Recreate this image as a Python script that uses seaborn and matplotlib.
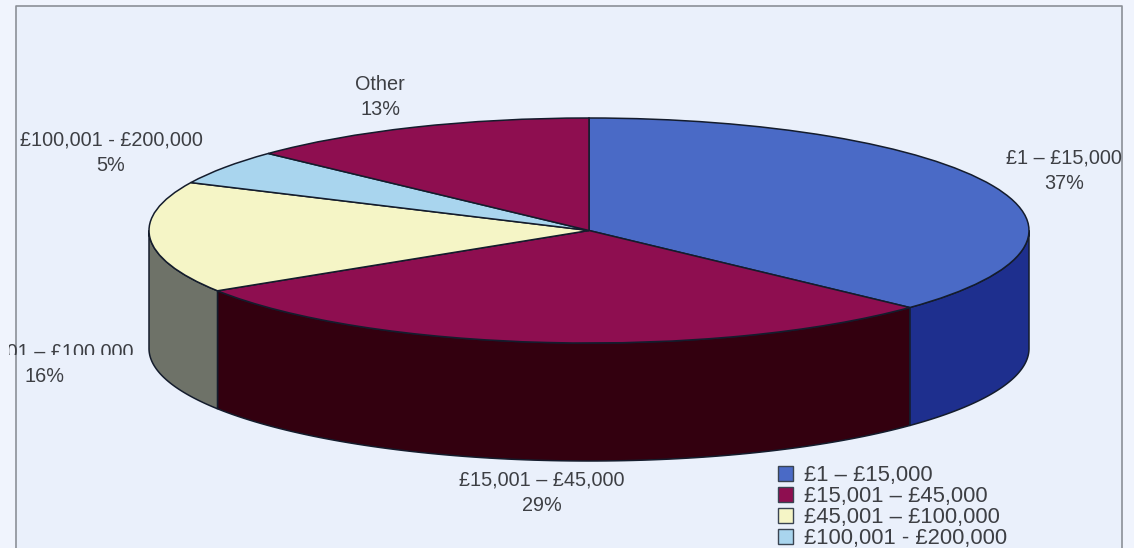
import numpy as np
import matplotlib
matplotlib.use("Agg")
import matplotlib.pyplot as plt
from matplotlib.lines import Line2D
from matplotlib.patches import Rectangle
from matplotlib.transforms import IdentityTransform
import seaborn as sns

# Income bands and their shares of the total
bands = ["£1 – £15,000", "£15,001 – £45,000", "£45,001 – £100,000",
         "£100,001 - £200,000", "Other"]
shares = [37, 29, 16, 5, 13]
top_colors = ["#4A6AC6", "#8E0E50", "#F5F5C6", "#A9D5EE", "#8E0E50"]
wall_colors = ["#1E2F8E", "#33000F", "#6E7268", "#5A7A90", "#33000F"]
legend_count = 4

W, H = 1134, 548
CX, CY, RX, RY, DEPTH = 589.0, 230.5, 440.0, 112.5, 118.0
BG, OUTER, INK, EDGE = "#EAF0FB", "#F0F4FD", "#3D3F44", "#141C2C"
LABEL_SIZE = 14.3

sns.set_theme(style="white")
plt.rcParams["font.family"] = ["Liberation Sans", "DejaVu Sans"]
palette = sns.color_palette(top_colors)

fig = plt.figure(figsize=(W / 100, H / 100), dpi=100, facecolor=OUTER)
fig.add_artist(Rectangle((16 / W, 0), (1122 - 16) / W, 1 - 6 / H,
                         transform=fig.transFigure, facecolor=BG,
                         edgecolor="none", zorder=-5))

# Axes in disc units: the unit circle is squashed into the tilted ellipse
ax = fig.add_axes([0, 0, 1, 1])
ax.patch.set_alpha(0)
wedges, _ = ax.pie(shares, colors=palette, startangle=90, counterclock=False,
                   radius=1, wedgeprops=dict(edgecolor=EDGE, linewidth=1.1,
                                             zorder=3))
ax.set_aspect("auto")
ax.set_xlim(-CX / RX, (W - CX) / RX)
ax.set_ylim((CY - H) / RY, CY / RY)
ax.set_axis_off()

# Side wall below the visible front half of the rim
drop = DEPTH / RY
ends = 90 - 3.6 * np.cumsum(shares)
starts = np.r_[90, ends[:-1]]
for start, end, color in zip(starts, ends, wall_colors):
    hi, lo = min(start, 0), max(end, -180)
    if hi <= lo:
        continue
    t = np.radians(np.linspace(hi, lo, 90))
    x, y = np.cos(t), np.sin(t)
    ax.fill(np.r_[x, x[::-1]], np.r_[y, y[::-1] - drop], facecolor=color,
            edgecolor=EDGE, linewidth=1.1, zorder=2)

# Slice labels, two lines each: band, then share
label_xy = [(1064, 171), (542, 493), (45, 0), (111, 153), (380, 97)]
for band, share, (px, py) in zip(bands, shares, label_xy):
    if band.startswith("£45"):
        # This label sits apart, cut by a mask at the left and along its lower edge
        head = fig.text(px / W, 1 - 357 / H, band, ha="center", va="baseline",
                        fontsize=LABEL_SIZE, color=INK)
        head.set_clip_path(Rectangle((9, H - 355), 200, 30,
                                     transform=IdentityTransform()))
        head.set_clip_on(True)
        fig.text(px / W, 1 - 382 / H, f"{share}%", ha="center", va="baseline",
                 fontsize=LABEL_SIZE, color=INK)
        continue
    fig.text(px / W, 1 - py / H, f"{band}\n{share}%", ha="center", va="center",
             fontsize=LABEL_SIZE, color=INK, linespacing=1.46)

# Chart frame: left, top and right edges
frame = dict(color="#8C9098", linewidth=1.2, transform=fig.transFigure)
fig.add_artist(Line2D([16 / W, 16 / W, 1122 / W, 1122 / W],
                      [0, 1 - 6 / H, 1 - 6 / H, 0], **frame))

leg = ax.legend(wedges[:legend_count], bands[:legend_count], frameon=False,
                loc="upper left", bbox_to_anchor=(778 / W, 1 - 465 / H),
                bbox_transform=fig.transFigure, fontsize=15.8,
                labelspacing=0.0, handlelength=0.68, handleheight=0.68,
                handletextpad=0.5, borderpad=0, borderaxespad=0)
for text in leg.get_texts():
    text.set_color(INK)
for handle in leg.get_patches():
    handle.set_edgecolor("#3A4452")
    handle.set_linewidth(1.0)

fig.savefig("out.png", dpi=100, facecolor=fig.get_facecolor())
